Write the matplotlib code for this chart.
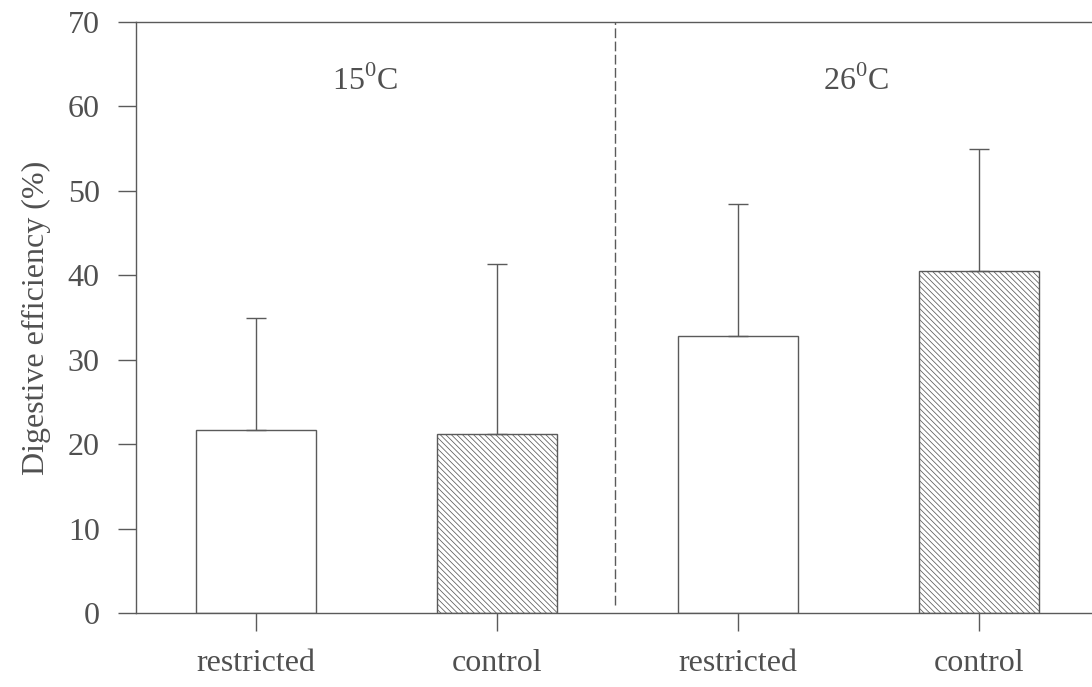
import matplotlib.pyplot as plt

plt.rcParams['font.family'] = ['Liberation Serif', 'DejaVu Serif']
plt.rcParams['mathtext.fontset'] = 'custom'
plt.rcParams['mathtext.rm'] = 'Liberation Serif'
plt.rcParams['hatch.color'] = '#aaaaaa'
plt.rcParams['hatch.linewidth'] = 0.55

# digestive efficiency, mean and upper SD
groups = ["restricted", "control", "restricted", "control"]
means = [21.7, 21.2, 32.8, 40.5]
sd = [13.2, 20.1, 15.6, 14.5]
temps = ["15$^{0}$C", "26$^{0}$C"]

ink = "#5a5a5a"
txt = "#505050"

fig = plt.figure(figsize=(10.92, 6.87), dpi=100)
ax = fig.add_axes([0.1245, 0.1077, 0.8755, 0.8603])

x = list(range(len(groups)))
hatches = ["", "\\\\\\\\\\\\", "", "\\\\\\\\\\\\"]
bars = ax.bar(x, means, width=0.5, color="white", edgecolor=ink, linewidth=1.0)
for b, h in zip(bars, hatches):
    b.set_hatch(h)
ax.errorbar(x, means, yerr=[[0] * len(sd), sd], fmt="none", ecolor=ink,
            elinewidth=1.0, capsize=7, capthick=1.0)

# dashed divider between temperatures
ax.axvline(1.49, ymin=1 / 70, ymax=1, color=ink, linestyle=(0, (7, 2.5)), linewidth=1.0)
ax.text(0.45, 63, temps[0], ha="center", va="center", fontsize=23, color=txt)
ax.text(2.49, 63, temps[1], ha="center", va="center", fontsize=23, color=txt)

ax.set_xlim(-0.498, 3.468)
ax.set_ylim(0, 70)
ax.set_yticks(range(0, 71, 10))
ax.set_xticks(x)
ax.set_xticklabels(groups)
ax.tick_params(axis="both", direction="out", length=13, width=1.0, color=ink,
               labelsize=23, labelcolor=txt)
ax.tick_params(axis="y", pad=13)
ax.tick_params(axis="x", pad=13)
ax.set_ylabel("Digestive efficiency (%)", fontsize=23, color=txt, labelpad=12)

ax.spines["right"].set_visible(False)
for s in ["left", "bottom", "top"]:
    ax.spines[s].set_color(ink)
    ax.spines[s].set_linewidth(1.0)

fig.savefig("out.png", dpi=100)
